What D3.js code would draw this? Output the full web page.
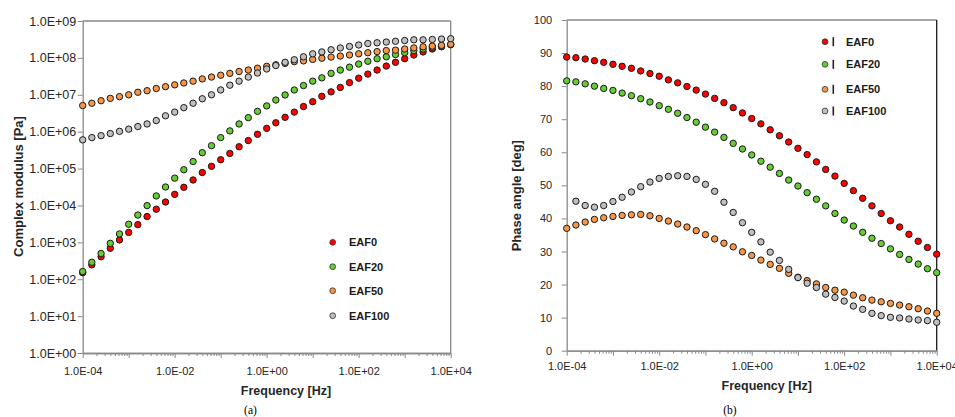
<!DOCTYPE html>
<html>
<head>
<meta charset="utf-8">
<script src="https://cdn.jsdelivr.net/npm/d3@7/dist/d3.min.js"></script>
<style>
  body { margin: 0; background: #fff; }
  svg { display: block; font-family: "Liberation Sans", Arial, sans-serif; }
</style>
</head>
<body>
<svg id="svg" width="955" height="417"></svg>
<script>
// frequencies [Hz], 5 points per decade
var freq = [1.0e-4, 1.58e-4, 2.51e-4, 3.98e-4, 6.31e-4,
            1.0e-3, 1.58e-3, 2.51e-3, 3.98e-3, 6.31e-3,
            1.0e-2, 1.58e-2, 2.51e-2, 3.98e-2, 6.31e-2,
            1.0e-1, 1.58e-1, 2.51e-1, 3.98e-1, 6.31e-1,
            1.0, 1.58, 2.51, 3.98, 6.31,
            10, 15.8, 25.1, 39.8, 63.1,
            100, 158, 251, 398, 631,
            1000, 1580, 2510, 3980, 6310, 10000];

var seriesNames = ["EAF0", "EAF20", "EAF50", "EAF100"];
var colorList = ["#ff0000", "#66cc33", "#f79646", "#bfbfbf"];

// complex modulus [Pa]
var modEAF0 = [1.5e2, 2.45e2, 4.07e2, 6.9e2, 1.16e3, 1.86e3, 3.02e3, 5.0e3, 7.9e3, 1.24e4,
               2.0e4, 3.1e4, 4.9e4, 7.8e4, 1.15e5, 1.74e5, 2.57e5, 3.9e5, 5.75e5, 8.5e5,
               1.23e6, 1.74e6, 2.45e6, 3.39e6, 4.8e6, 6.5e6, 9.1e6, 1.2e7, 1.58e7, 2.14e7,
               2.82e7, 3.63e7, 4.68e7, 6.0e7, 7.6e7, 9.5e7, 1.2e8, 1.45e8, 1.74e8, 2.0e8, 2.29e8];
var modEAF20 = [1.62e2, 2.88e2, 5.0e2, 9.4e2, 1.69e3, 3.09e3, 5.5e3, 9.9e3, 1.81e4, 3.16e4,
                5.5e4, 9.3e4, 1.55e5, 2.69e5, 4.17e5, 6.9e5, 1.05e6, 1.62e6, 2.4e6, 3.55e6,
                5.0e6, 7.2e6, 9.9e6, 1.35e7, 1.78e7, 2.34e7, 2.88e7, 3.8e7, 4.68e7, 5.6e7,
                6.8e7, 8.1e7, 9.5e7, 1.07e8, 1.23e8, 1.38e8, 1.58e8, 1.74e8, 1.95e8, 2.09e8, 2.29e8];
var modEAF50 = [5.1e6, 5.9e6, 6.9e6, 8.0e6, 8.9e6, 1.0e7, 1.17e7, 1.29e7, 1.48e7, 1.66e7,
                1.86e7, 2.09e7, 2.34e7, 2.69e7, 3.02e7, 3.39e7, 3.8e7, 4.27e7, 4.68e7, 5.25e7,
                5.9e7, 6.5e7, 7.1e7, 7.9e7, 8.3e7, 9.1e7, 9.8e7, 1.05e8, 1.12e8, 1.2e8,
                1.29e8, 1.38e8, 1.48e8, 1.58e8, 1.62e8, 1.74e8, 1.86e8, 2.0e8, 2.09e8, 2.19e8, 2.34e8];
var modEAF100 = [6.0e5, 6.9e5, 7.8e5, 8.9e5, 1.02e6, 1.17e6, 1.38e6, 1.62e6, 2.0e6, 2.69e6,
                 3.39e6, 4.47e6, 5.9e6, 7.8e6, 1.0e7, 1.35e7, 1.82e7, 2.34e7, 3.02e7, 3.89e7,
                 5.0e7, 6.2e7, 7.6e7, 8.9e7, 1.07e8, 1.29e8, 1.45e8, 1.66e8, 1.86e8, 2.04e8,
                 2.24e8, 2.45e8, 2.57e8, 2.69e8, 2.82e8, 2.95e8, 3.09e8, 3.09e8, 3.16e8, 3.24e8, 3.31e8];

// phase angle [deg]
var phEAF0 = [88.8, 88.6, 88.2, 87.7, 87.2, 86.6, 86.0, 85.4, 84.6, 83.8,
              83.0, 81.9, 81.0, 79.9, 78.8, 77.6, 76.3, 75.0, 73.5, 71.9,
              70.2, 68.6, 66.8, 65.0, 63.1, 61.2, 59.3, 57.1, 54.8, 52.8,
              50.6, 48.4, 46.1, 43.8, 41.5, 39.3, 37.4, 35.2, 33.1, 31.2, 29.2];
var phEAF20 = [81.6, 81.3, 80.7, 80.0, 79.3, 78.7, 77.9, 77.1, 76.2, 75.2,
               74.1, 73.0, 71.8, 70.5, 69.1, 67.6, 66.1, 64.5, 62.7, 61.0,
               59.2, 57.3, 55.5, 53.6, 51.6, 49.8, 47.8, 45.8, 43.8, 41.5,
               39.5, 37.7, 35.8, 34.0, 32.4, 30.8, 29.1, 27.6, 26.2, 24.8, 23.6];
var phEAF50 = [37.0, 38.0, 38.9, 39.7, 40.2, 40.6, 40.9, 41.1, 41.2, 40.8,
               40.0, 39.2, 38.3, 37.4, 36.3, 35.1, 33.8, 32.5, 31.4, 29.9,
               28.8, 27.4, 26.1, 24.9, 23.4, 22.2, 21.2, 20.2, 19.1, 18.3,
               17.7, 16.8, 16.0, 15.3, 14.8, 14.3, 13.8, 13.3, 12.7, 12.0, 11.3];
var phEAF100 = [null, 45.2, 43.9, 43.4, 43.9, 45.1, 46.4, 48.0, 49.6, 51.0,
                52.1, 52.7, 52.9, 52.7, 51.8, 50.3, 48.2, 44.9, 41.8, 38.7,
                35.8, 32.9, 29.8, 27.3, 24.6, 22.1, 20.4, 19.1, 17.1, 16.1,
                15.0, 13.5, 12.5, 11.3, 10.6, 10.1, 9.9, 9.6, 9.3, 9.1, 8.6];

var modTicks = [1e0, 1e1, 1e2, 1e3, 1e4, 1e5, 1e6, 1e7, 1e8, 1e9];
var phaseTicks = [0, 10, 20, 30, 40, 50, 60, 70, 80, 90, 100];
var freqTicks = [1e-4, 1e-3, 1e-2, 1e-1, 1e0, 1e1, 1e2, 1e3, 1e4];
var freqLabelled = [1e-4, 1e-2, 1e0, 1e2, 1e4];

var svg = d3.select("#svg");
var axisColor = "#898989";
var textColor = "#262626";

function fmtE(v) {
    var e = Math.round(Math.log10(v));
    var s = e < 0 ? "-" : "+";
    var a = Math.abs(e);
    return "1.0E" + s + (a < 10 ? "0" + a : a);
}

function minorTicks() {
    var out = [];
    for (var k = 0; k < freqTicks.length - 1; k++) {
        for (var m = 2; m < 10; m++) out.push(freqTicks[k] * m);
    }
    return out;
}

function styleAxis(sel, fontSize) {
    sel.select(".domain").attr("stroke", axisColor).attr("stroke-width", 1.3);
    sel.selectAll(".tick line").attr("stroke", axisColor).attr("stroke-width", 1);
    sel.selectAll(".tick text").attr("fill", textColor).style("font-size", fontSize + "px");
    sel.attr("font-family", null);
}

function drawPanel(p) {
    var g = svg.append("g");
    var x = p.x, y = p.y;
    var x0 = x.range()[0], x1 = x.range()[1];
    var y0 = y.range()[0], y1 = y.range()[1];

    // frame (top and right)
    g.append("line").attr("x1", x0).attr("x2", x1).attr("y1", y1).attr("y2", y1)
        .attr("stroke", axisColor).attr("stroke-width", 1.3);
    g.append("line").attr("x1", x1).attr("x2", x1).attr("y1", y1).attr("y2", y0)
        .attr("stroke", p.rightColor).attr("stroke-width", 1.3);

    // minor x ticks
    var minor = g.append("g").attr("transform", "translate(0," + y0 + ")")
        .call(d3.axisBottom(x).tickValues(minorTicks()).tickSize(3).tickSizeOuter(0).tickFormat(""));
    styleAxis(minor, 11);

    var xa = g.append("g").attr("transform", "translate(0," + y0 + ")")
        .call(d3.axisBottom(x).tickValues(freqTicks).tickSize(5).tickSizeOuter(0)
            .tickPadding(p.xPad)
            .tickFormat(function(d) { return freqLabelled.indexOf(d) >= 0 ? fmtE(d) : ""; }));
    styleAxis(xa, 11);

    var ya = g.append("g").attr("transform", "translate(" + x0 + ",0)")
        .call(d3.axisLeft(y).tickValues(p.yTicks).tickSize(5).tickSizeOuter(0)
            .tickPadding(p.yPad).tickFormat(p.yFormat));
    styleAxis(ya, p.yFont);

    // points: EAF0 first, EAF100 on top
    for (let s = 0; s < p.series.length; s++) {
        var vals = p.series[s];
        g.append("g").selectAll("circle")
            .data(freq.map(function(f, i) { return [f, vals[i]]; }).filter(function(d) { return d[1] != null; }))
            .enter().append("circle")
            .attr("cx", function(d) { return x(d[0]); })
            .attr("cy", function(d) { return y(d[1]); })
            .attr("r", 3.2)
            .attr("fill", colorList[s])
            .attr("stroke", "#1a1a1a")
            .attr("stroke-width", 1);
    }

    // titles
    g.append("text")
        .attr("x", p.xTitle[0]).attr("y", p.xTitle[1])
        .attr("text-anchor", "middle")
        .style("font-size", "12.5px").style("font-weight", "bold").attr("fill", textColor)
        .text("Frequency [Hz]");
    g.append("text")
        .attr("transform", "translate(" + p.yTitle[0] + "," + p.yTitle[1] + ") rotate(-90)")
        .attr("text-anchor", "middle").attr("dy", "0.35em")
        .style("font-size", "13px").style("font-weight", "bold").attr("fill", textColor)
        .text(p.yLabel);
    g.append("text")
        .attr("x", p.caption[0]).attr("y", p.caption[1])
        .attr("text-anchor", "middle")
        .style("font-family", "'Liberation Serif', 'Times New Roman', serif")
        .style("font-size", "11.5px").attr("fill", "#000")
        .text(p.captionText);

    // legend
    for (let s = 0; s < seriesNames.length; s++) {
        var ly = p.legend.y[s];
        g.append("circle")
            .attr("cx", p.legend.x).attr("cy", ly).attr("r", 2.9)
            .attr("fill", colorList[s]).attr("stroke", "#333").attr("stroke-width", 0.8);
        if (p.legend.stub) {
            g.append("rect")
                .attr("x", p.legend.x + 7.5).attr("y", ly - 4.5)
                .attr("width", 1.6).attr("height", 9).attr("fill", "#222");
        }
        g.append("text")
            .attr("x", p.legend.tx).attr("y", ly).attr("dy", "0.36em")
            .style("font-size", "11px").style("font-weight", "bold").attr("fill", "#1a1a1a")
            .text(seriesNames[s]);
    }
}

var xL = d3.scaleLog().domain([1e-4, 1e4]).range([82.7, 450.7]);
var yL = d3.scaleLog().domain([1e0, 1e9]).range([353, 21]);
var xR = d3.scaleLog().domain([1e-4, 1e4]).range([566.7, 936.7]);
var yR = d3.scaleLinear().domain([0, 100]).range([350.7, 20]);

drawPanel({
    x: xL, y: yL,
    yTicks: modTicks, yFormat: fmtE, yFont: 12.5, yPad: 1.5, xPad: 9,
    rightColor: axisColor,
    series: [modEAF0, modEAF20, modEAF50, modEAF100],
    xTitle: [286, 394.5], yTitle: [18, 186.5], yLabel: "Complex modulus [Pa]",
    caption: [250.5, 414], captionText: "(a)",
    legend: { x: 332.7, tx: 349, y: [242.3, 266.7, 290.7, 315.7], stub: false }
});

drawPanel({
    x: xR, y: yR,
    yTicks: phaseTicks, yFormat: d3.format("d"), yFont: 11, yPad: 9.5, xPad: 7,
    rightColor: "#1a1a1a",
    series: [phEAF0, phEAF20, phEAF50, phEAF100],
    xTitle: [766.7, 389.5], yTitle: [516, 195.7], yLabel: "Phase angle [deg]",
    caption: [730, 414], captionText: "(b)",
    legend: { x: 825, tx: 846, y: [41.7, 64.3, 89.3, 111], stub: true }
});
</script>
</body>
</html>
